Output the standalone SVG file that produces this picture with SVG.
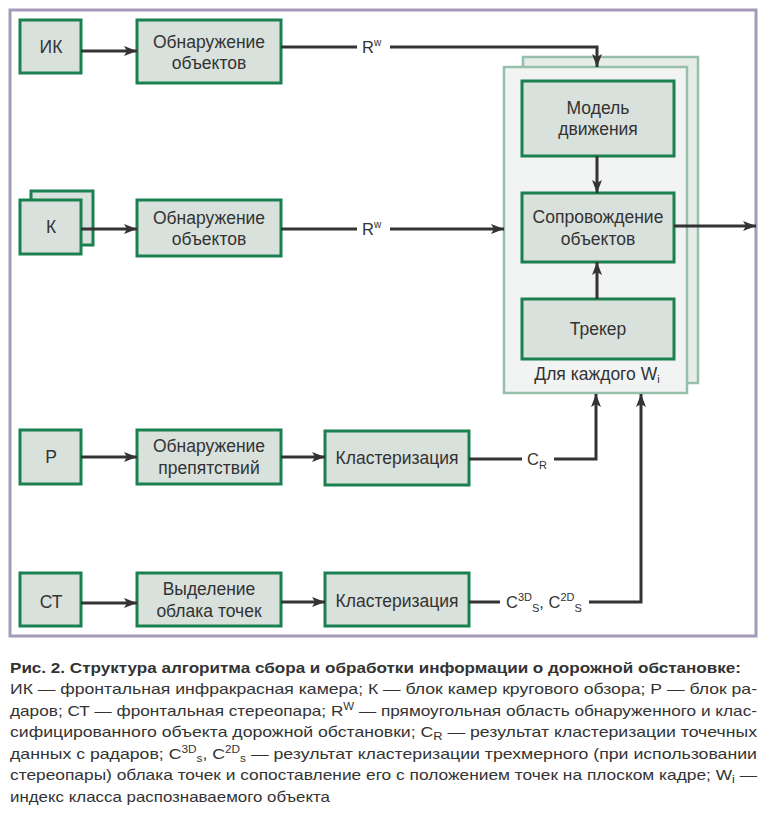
<svg xmlns="http://www.w3.org/2000/svg" width="767" height="814" viewBox="0 0 767 814">
<defs>
<marker id="ah" markerUnits="userSpaceOnUse" markerWidth="14" markerHeight="12" refX="13" refY="5" orient="auto">
<path d="M0,0 L13,5 L0,10 L3,5 z" fill="#333"/>
</marker>
<style>
.box{fill:#d9e1dd;stroke:#1b8050;stroke-width:3}
.pan{fill:#f1f4f2;stroke:#98bfab;stroke-width:2.5}
.pan2{fill:#e6ece8;stroke:#98bfab;stroke-width:2.5}
.t{font-family:"Liberation Sans",Arial,sans-serif;font-size:17.5px;fill:#333;text-anchor:middle}
.lb{font-family:"Liberation Sans",Arial,sans-serif;font-size:16.5px;fill:#333}
.c{fill:none;stroke:#333;stroke-width:3}
.cap{font-family:"Liberation Sans",Arial,sans-serif;font-size:15px;fill:#333}
</style>
</defs>
<rect x="10" y="10" width="746" height="626" fill="#fff" stroke="#a59bb8" stroke-width="3"/>

<g id="panel">
<rect class="pan2" x="523" y="57" width="175" height="326"/>
<rect class="pan" x="504" y="67" width="183" height="326"/>
<text class="t" x="597" y="380" font-size="16.5">Для каждого W<tspan font-size="11" dy="3">i</tspan></text>
</g>

<g id="n-ik"><rect class="box" x="20" y="20" width="61" height="53"/><text class="t" x="51" y="53">ИК</text></g>
<g id="n-det1"><rect class="box" x="137" y="20" width="144" height="63"/><text class="t" x="209" y="48">Обнаружение</text><text class="t" x="209" y="69">объектов</text></g>

<g id="n-k"><rect class="box" x="31" y="191" width="62" height="54"/><rect class="box" x="20" y="200" width="61" height="54"/><text class="t" x="51" y="233">К</text></g>
<g id="n-det2"><rect class="box" x="137" y="200" width="144" height="56"/><text class="t" x="209" y="224">Обнаружение</text><text class="t" x="209" y="245">объектов</text></g>

<g id="n-model"><rect class="box" x="522" y="81" width="152" height="75"/><text class="t" x="598" y="114">Модель</text><text class="t" x="598" y="135">движения</text></g>
<g id="n-track"><rect class="box" x="522" y="193" width="152" height="69"/><text class="t" x="598" y="223">Сопровождение</text><text class="t" x="598" y="245">объектов</text></g>
<g id="n-tracker"><rect class="box" x="522" y="299" width="152" height="60"/><text class="t" x="598" y="335">Трекер</text></g>

<g id="n-r"><rect class="box" x="20" y="430" width="61" height="54"/><text class="t" x="51" y="463">Р</text></g>
<g id="n-det3"><rect class="box" x="137" y="430" width="144" height="54"/><text class="t" x="209" y="452">Обнаружение</text><text class="t" x="209" y="474">препятствий</text></g>
<g id="n-cl1"><rect class="box" x="325" y="431" width="144" height="54"/><text class="t" x="397" y="464">Кластеризация</text></g>

<g id="n-st"><rect class="box" x="20" y="573" width="61" height="53"/><text class="t" x="51" y="608">СТ</text></g>
<g id="n-pc"><rect class="box" x="137" y="573" width="144" height="53"/><text class="t" x="209" y="595">Выделение</text><text class="t" x="209" y="617">облака точек</text></g>
<g id="n-cl2"><rect class="box" x="325" y="573" width="144" height="53"/><text class="t" x="397" y="607">Кластеризация</text></g>

<g id="connectors">
<path class="c" d="M81,51 H137" marker-end="url(#ah)"/>
<path class="c" d="M281,47 H357"/>
<path class="c" d="M390,47 H597 V67" marker-end="url(#ah)"/>
<text class="lb" x="362" y="53">R<tspan font-size="10" dy="-7">w</tspan></text>
<path class="c" d="M81,229 H137" marker-end="url(#ah)"/>
<path class="c" d="M281,229 H357"/>
<path class="c" d="M390,229 H504" marker-end="url(#ah)"/>
<text class="lb" x="362" y="235">R<tspan font-size="10" dy="-7">w</tspan></text>
<path class="c" d="M597,156 V193" marker-end="url(#ah)"/>
<path class="c" d="M597,299 V262" marker-end="url(#ah)"/>
<path class="c" d="M674,226 H756" marker-end="url(#ah)"/>
<path class="c" d="M81,457 H137" marker-end="url(#ah)"/>
<path class="c" d="M281,457 H325" marker-end="url(#ah)"/>
<path class="c" d="M469,459 H522"/>
<path class="c" d="M554,459 H596 V394" marker-end="url(#ah)"/>
<text class="lb" x="527" y="465">C<tspan font-size="11" dy="4">R</tspan></text>
<path class="c" d="M81,603 H137" marker-end="url(#ah)"/>
<path class="c" d="M281,602 H325" marker-end="url(#ah)"/>
<path class="c" d="M469,602 H500"/>
<path class="c" d="M589,602 H641 V394" marker-end="url(#ah)"/>
<text class="lb" x="506" y="608">C<tspan font-size="11" dy="-7">3D</tspan><tspan font-size="11" dy="11">S</tspan><tspan dy="-4">, C</tspan><tspan font-size="11" dy="-7">2D</tspan><tspan font-size="11" dy="11">S</tspan></text>
</g>

<g id="caption">
<text class="cap" x="10" y="673" font-weight="bold" textLength="731" lengthAdjust="spacingAndGlyphs">Рис. 2. Структура алгоритма сбора и обработки информации о дорожной обстановке:</text>
<text class="cap" x="10" y="694" textLength="747" lengthAdjust="spacingAndGlyphs">ИК — фронтальная инфракрасная камера; К — блок камер кругового обзора; Р — блок ра-</text>
<text class="cap" x="10" y="716" textLength="747" lengthAdjust="spacingAndGlyphs">даров; СТ — фронтальная стереопара; R<tspan font-size="10" dy="-6">W</tspan><tspan dy="6"> — прямоугольная область обнаруженного и клас-</tspan></text>
<text class="cap" x="10" y="737" textLength="747" lengthAdjust="spacingAndGlyphs">сифицированного объекта дорожной обстановки; C<tspan font-size="11" dy="3">R</tspan><tspan dy="-3"> — результат кластеризации точечных</tspan></text>
<text class="cap" x="10" y="759" textLength="747" lengthAdjust="spacingAndGlyphs">данных с радаров; C<tspan font-size="10" dy="-6">3D</tspan><tspan font-size="10" dy="9">s</tspan><tspan dy="-3">, C</tspan><tspan font-size="10" dy="-6">2D</tspan><tspan font-size="10" dy="9">s</tspan><tspan dy="-3"> — результат кластеризации трехмерного (при использовании</tspan></text>
<text class="cap" x="10" y="780" textLength="747" lengthAdjust="spacingAndGlyphs">стереопары) облака точек и сопоставление его с положением точек на плоском кадре; W<tspan font-size="11" dy="3">i</tspan><tspan dy="-3"> —</tspan></text>
<text class="cap" x="10" y="802" textLength="320" lengthAdjust="spacingAndGlyphs">индекс класса распознаваемого объекта</text>
</g>
</svg>
